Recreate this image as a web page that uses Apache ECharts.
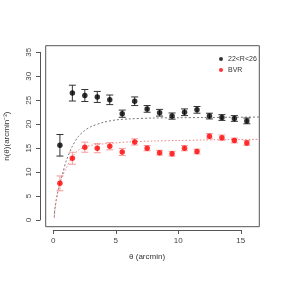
<!DOCTYPE html>
<html><head><meta charset="utf-8">
<script src="https://cdn.jsdelivr.net/npm/echarts@6/dist/echarts.min.js"></script>
<style>html,body{margin:0;padding:0;background:#fff}#c{width:283px;height:283px}</style>
</head><body><div id="c"></div>
<script>
var theta = [0.5,1.5,2.5,3.5,4.5,5.5,6.5,7.5,8.5,9.5,10.5,11.5,12.5,13.5,14.5,15.5];
var blackVals = [15.6,26.5,26.0,25.7,25.1,22.2,24.8,23.2,22.4,21.7,22.5,23.0,21.7,21.4,21.2,20.7];
var blackErr  = [2.25,1.65,1.25,1.15,1.0,0.75,0.9,0.7,0.7,0.65,0.7,0.7,0.6,0.6,0.6,0.6];
var redVals   = [7.65,12.9,15.2,15.0,15.4,14.2,16.3,15.0,14.05,13.85,15.0,14.3,17.5,17.2,16.6,16.1];
var redErr    = [1.55,1.25,1.05,0.95,0.75,0.75,0.65,0.55,0.5,0.5,0.55,0.5,0.55,0.55,0.5,0.5];
var curveX    = [0.05,0.1,0.3,0.5,0.75,1,1.5,2,2.5,3,4,5,6,8,10,12,14,16.5];
var blackCurve= [0.6,2.5,5.5,7.6,10.0,12.3,15.4,17.5,18.7,19.5,20.4,20.9,21.1,21.3,21.35,21.4,21.45,21.5];
var redCurve  = [0.4,2.0,5.5,7.8,9.5,10.8,13.2,14.6,15.2,15.6,15.9,16.1,16.3,16.5,16.6,16.7,16.8,16.85];
var yTicks = [0,5,10,15,20,25,30,35];
var xTicks = [0,5,10,15];
var legendNames = ['22<R<26','BVR'];

var font = 'Liberation Sans, Arial, sans-serif';
function pairs(xs, ys){ return xs.map(function(x,i){return [x, ys[i]];}); }
function errData(xs, ys, es){ return xs.map(function(x,i){return [x, ys[i]-es[i], ys[i]+es[i]];}); }
function errSeries(data, color){
  return {
    type:'custom', xAxisIndex:0, yAxisIndex:0, data:data, silent:true, z:2,
    renderItem:function(params, api){
      var x = api.value(0);
      var lo = api.coord([x, api.value(1)]);
      var hi = api.coord([x, api.value(2)]);
      var w = 3.5;
      var st = {stroke:color, lineWidth:1};
      return {type:'group', children:[
        {type:'line', shape:{x1:lo[0],y1:lo[1],x2:hi[0],y2:hi[1]}, style:st},
        {type:'line', shape:{x1:lo[0]-w,y1:lo[1],x2:lo[0]+w,y2:lo[1]}, style:st},
        {type:'line', shape:{x1:hi[0]-w,y1:hi[1],x2:hi[0]+w,y2:hi[1]}, style:st}
      ]};
    }
  };
}
var chart = echarts.init(document.getElementById('c'), null, {renderer:'canvas'});
var axisText = {color:'#444', fontSize:8, fontFamily:font};
chart.setOption({
  animation:false,
  textStyle:{fontFamily:font},
  legend:{
    data:[{name:legendNames[0], icon:'circle'},{name:legendNames[1], icon:'circle'}],
    orient:'vertical', left:214, top:50.5, itemWidth:4, itemHeight:4, itemGap:4, itemTextGap:3,
    textStyle:{fontSize:7, color:'#333', fontFamily:font}
  },
  grid:[
    {left:45.7, top:45.7, width:213.6, height:181, show:true, borderColor:'#555', borderWidth:1, backgroundColor:'transparent'},
    {left:40, top:52.3, width:1, height:167.7},
    {left:53.3, top:229, width:187.5, height:1}
  ],
  xAxis:[
    {gridIndex:0, type:'value', min:-0.64, max:16.5, show:false},
    {gridIndex:1, type:'value', show:false, min:0, max:1},
    {gridIndex:2, type:'value', min:0, max:15, interval:5, position:'bottom',
     axisLine:{show:true, lineStyle:{color:'#555'}}, axisTick:{show:true, length:4, lineStyle:{color:'#555'}},
     splitLine:{show:false}, axisLabel:Object.assign({margin:7}, axisText),
     name:'θ (arcmin)', nameLocation:'middle', nameGap:23, nameTextStyle:{fontSize:8, color:'#333', fontFamily:font}}
  ],
  yAxis:[
    {gridIndex:0, type:'value', min:-1.4, max:36.4, show:false},
    {gridIndex:1, type:'value', min:0, max:35, interval:5, position:'left',
     axisLine:{show:true, lineStyle:{color:'#555'}}, axisTick:{show:true, length:4, lineStyle:{color:'#555'}},
     splitLine:{show:false}, axisLabel:Object.assign({margin:7, rotate:90}, axisText),
     name:'n(θ)(arcmin⁻²)', nameLocation:'middle', nameGap:29, nameRotate:90,
     nameTextStyle:{fontSize:8, color:'#333', fontFamily:font}},
    {gridIndex:2, type:'value', show:false, min:0, max:1}
  ],
  series:[
    {type:'line', xAxisIndex:0, yAxisIndex:0, data:pairs(curveX, blackCurve), smooth:0.3, showSymbol:false, silent:true,
     lineStyle:{color:'#777', width:1, type:[2,2]}, z:1},
    {type:'line', xAxisIndex:0, yAxisIndex:0, data:pairs(curveX, redCurve), smooth:0.3, showSymbol:false, silent:true,
     lineStyle:{color:'#f08080', width:1, type:[1.5,2]}, z:1},
    errSeries(errData(theta, blackVals, blackErr), '#333'),
    errSeries(errData(theta, redVals, redErr), '#f59a9a'),
    {name:legendNames[0], type:'scatter', xAxisIndex:0, yAxisIndex:0, data:pairs(theta, blackVals), symbol:'circle', symbolSize:5.5,
     itemStyle:{color:'#000'}, z:3},
    {name:legendNames[1], type:'scatter', xAxisIndex:0, yAxisIndex:0, data:pairs(theta, redVals), symbol:'circle', symbolSize:5.5,
     itemStyle:{color:'#f00'}, z:3}
  ]
});
</script></body></html>
